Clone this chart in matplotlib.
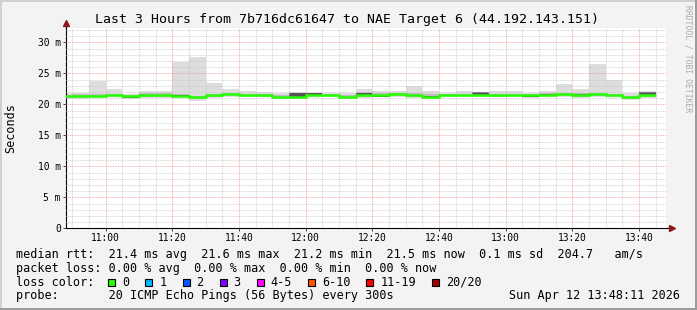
import numpy as np
import matplotlib
matplotlib.use('Agg')
import matplotlib.pyplot as plt
from matplotlib.ticker import MultipleLocator, FuncFormatter
from matplotlib.patches import Rectangle

# 5 minute bins, minutes after midnight, 10:45 .. 13:40
bin_start = np.arange(10 * 60 + 45, 13 * 60 + 45, 5)

# median rtt per bin (ms)
med = [21.3, 21.3, 21.3, 21.5, 21.3, 21.5, 21.5, 21.4, 21.15, 21.45,
       21.65, 21.45, 21.45, 21.2, 21.2, 21.45, 21.45, 21.2, 21.45, 21.5,
       21.65, 21.45, 21.25, 21.45, 21.45, 21.45, 21.45, 21.45, 21.45, 21.45,
       21.65, 21.45, 21.65, 21.45, 21.1, 21.5]
# smoke: min / max of the 20 pings
lo = [20.9, 20.9, 20.95, 21.1, 20.9, 21.0, 21.0, 21.0, 20.6, 21.0,
      21.2, 21.1, 21.1, 20.8, 20.85, 21.1, 21.1, 20.8, 21.05, 21.1,
      21.2, 21.0, 20.9, 21.1, 21.1, 21.1, 21.1, 21.1, 21.0, 21.1,
      21.1, 21.0, 21.1, 21.1, 20.75, 21.0]
hi = [21.75, 21.9, 23.7, 22.5, 21.65, 22.1, 22.1, 26.9, 27.6, 23.4,
      22.4, 22.15, 22.0, 21.8, 22.05, 21.8, 21.8, 21.75, 22.4, 22.1,
      22.1, 22.95, 22.2, 21.8, 22.1, 22.0, 22.1, 22.1, 21.75, 22.15,
      23.3, 22.4, 26.45, 24.0, 21.75, 22.1]
# inner pings
q_lo = [21.05, 21.1, 21.1, 21.3, 21.0, 21.2, 21.2, 21.2, 20.9, 21.2,
        21.4, 21.3, 21.25, 21.0, 21.0, 21.3, 21.3, 21.0, 21.25, 21.2,
        21.4, 21.2, 21.0, 21.3, 21.3, 21.3, 21.25, 21.3, 21.1, 21.3,
        21.3, 21.2, 21.3, 21.3, 20.9, 21.25]
q_hi = [21.5, 21.6, 21.6, 21.7, 21.5, 21.75, 21.75, 21.7, 21.4, 21.7,
        21.9, 21.7, 21.65, 21.45, 21.8, 21.8, 21.65, 21.45, 22.0, 21.75,
        21.85, 21.75, 21.6, 21.65, 21.7, 21.95, 21.7, 21.7, 21.6, 21.75,
        21.85, 21.75, 21.85, 21.7, 21.4, 21.85]
# middle pings (10th/11th)
c_lo = [21.25, 21.25, 21.25, 21.45, 21.05, 21.45, 21.45, 21.35, 20.95, 21.4,
        21.6, 21.4, 21.4, 21.15, 21.2, 21.4, 21.4, 21.15, 21.4, 21.2,
        21.6, 21.4, 21.2, 21.4, 21.4, 21.45, 21.4, 21.4, 21.15, 21.4,
        21.6, 21.45, 21.6, 21.4, 21.05, 21.5]
c_hi = [21.35, 21.35, 21.35, 21.55, 21.35, 21.55, 21.55, 21.45, 21.2, 21.5,
        21.7, 21.5, 21.5, 21.25, 21.75, 21.8, 21.5, 21.25, 21.85, 21.5,
        21.7, 21.5, 21.3, 21.5, 21.5, 21.95, 21.5, 21.5, 21.45, 21.6,
        21.7, 21.6, 21.7, 21.5, 21.15, 21.95]

title = 'Last 3 Hours from 7b716dc61647 to NAE Target 6 (44.192.143.151)'
legend_rtt = ('median rtt:  21.4 ms avg  21.6 ms max  21.2 ms min  '
              '21.5 ms now  0.1 ms sd  204.7   am/s')
legend_loss = 'packet loss: 0.00 % avg  0.00 % max  0.00 % min  0.00 % now'
loss_labels = ['0', '1', '2', '3', '4-5', '6-10', '11-19', '20/20']
loss_colors = ['#26ff00', '#00b8ff', '#0059ff', '#7e00ff', '#ff00ff',
               '#ff5500', '#ff0000', '#a10000']
probe = 'probe:       20 ICMP Echo Pings (56 Bytes) every 300s'
stamp = 'Sun Apr 12 13:48:11 2026'

W, H = 697, 310
mono = 'DejaVu Sans Mono'
fig = plt.figure(figsize=(W / 100, H / 100), dpi=100, facecolor='#f3f3f3')
ax = fig.add_axes([66.3 / W, (H - 228.3) / H, 600 / W, 200 / H])
ax.set_facecolor('white')

edges = np.append(bin_start, bin_start[-1] + 5)
ax.stairs(hi, edges, baseline=lo, fill=True, color='#dddddd', lw=0, zorder=1)
ax.stairs(q_hi, edges, baseline=q_lo, fill=True, color='#bdbdbd', lw=0, zorder=1.1)
ax.stairs(c_hi, edges, baseline=c_lo, fill=True, color='#555555', lw=0, zorder=1.2)
ax.stairs(med, edges, baseline=None, color=loss_colors[0], lw=1.8, zorder=4)

t0 = 10 * 60 + 48 + 11 / 60
ax.set_xlim(t0, t0 + 180)
ax.set_ylim(0, 32.26)

ax.xaxis.set_major_locator(MultipleLocator(20))
ax.xaxis.set_minor_locator(MultipleLocator(5))
ax.yaxis.set_major_locator(MultipleLocator(5))
ax.yaxis.set_minor_locator(MultipleLocator(1))
ax.xaxis.set_major_formatter(FuncFormatter(lambda v, p: '%02d:%02d' % (int(v) // 60, int(v) % 60)))
ax.yaxis.set_major_formatter(FuncFormatter(lambda v, p: '0' if v == 0 else '%d m' % v))

ax.grid(which='minor', color='#c8c8c8', ls=(0, (1, 1)), lw=0.6, zorder=2)
ax.grid(which='major', color='#f29a9a', ls=(0, (1, 1)), lw=0.6, zorder=2)
ax.set_axisbelow(False)
ax.tick_params(which='minor', length=0)
ax.tick_params(which='major', length=2, width=0.7, color='#444444',
               labelsize=6.9, pad=2)
ax.tick_params(axis='x', pad=1.5)
for lab in ax.get_xticklabels() + ax.get_yticklabels():
    lab.set_fontfamily(mono)

for s in ['top', 'right']:
    ax.spines[s].set_visible(False)
for s in ['left', 'bottom']:
    ax.spines[s].set_linewidth(0.8)
    ax.spines[s].set_color('black')

# axis arrows
ax.plot([0, 0], [1, 1.025], color='black', lw=0.8, transform=ax.transAxes, clip_on=False)
ax.plot([0], [1.027], marker='^', ms=4.5, color='#8b1a1a', transform=ax.transAxes, clip_on=False)
ax.plot([1, 1.007], [0, 0], color='black', lw=0.8, transform=ax.transAxes, clip_on=False)
ax.plot([1.009], [0], marker='>', ms=4.5, color='#8b1a1a', transform=ax.transAxes, clip_on=False)

ax.set_ylabel('Seconds', fontfamily=mono, fontsize=8.5)
ax.yaxis.set_label_coords((10.5 - 66.3) / 600, 0.5)
ax.yaxis.label.set_va('center')

fig.text(347 / W, 1 - 19.3 / H, title, ha='center', va='center',
         fontfamily=mono, fontsize=9.5)
fig.text(688 / W, 1 - 5 / H, 'RRDTOOL / TOBI OETIKER', rotation=270,
         ha='center', va='top', fontfamily=mono, fontsize=5.8, color='#aaaaaa')

fs = 8.49
cw = 7.1
fig.text(16 / W, 1 - 254.7 / H, legend_rtt, va='center', fontfamily=mono, fontsize=fs)
fig.text(16 / W, 1 - 268.3 / H, legend_loss, va='center', fontfamily=mono, fontsize=fs)
fig.text(16 / W, 1 - 282.3 / H, 'loss color:', va='center', fontfamily=mono, fontsize=fs)
bx = 108.3
for lab, col in zip(loss_labels, loss_colors):
    fig.patches.append(Rectangle((bx / W, 1 - 286 / H), 7 / W, 7 / H,
                                 transform=fig.transFigure, facecolor=col,
                                 edgecolor='black', lw=0.8))
    fig.text((bx + 14) / W, 1 - 282.3 / H, lab, va='center', fontfamily=mono, fontsize=fs)
    bx += 30 + cw * len(lab)
fig.text(16 / W, 1 - 295.3 / H, probe, va='center', fontfamily=mono, fontsize=fs)
fig.text(680 / W, 1 - 295.3 / H, stamp, va='center', ha='right', fontfamily=mono, fontsize=fs)

# frame
fig.patches.append(Rectangle((0, 1 - 2 / H), 1, 2 / H, transform=fig.transFigure, color='#d0d0d0', lw=0))
fig.patches.append(Rectangle((0, 0), 2 / W, 1, transform=fig.transFigure, color='#d0d0d0', lw=0))
fig.patches.append(Rectangle((1 - 2 / W, 0), 2 / W, 1, transform=fig.transFigure, color='#9c9c9c', lw=0))
fig.patches.append(Rectangle((0, 0), 1, 2 / H, transform=fig.transFigure, color='#9c9c9c', lw=0))

fig.savefig('out.png', dpi=100, facecolor=fig.get_facecolor())
